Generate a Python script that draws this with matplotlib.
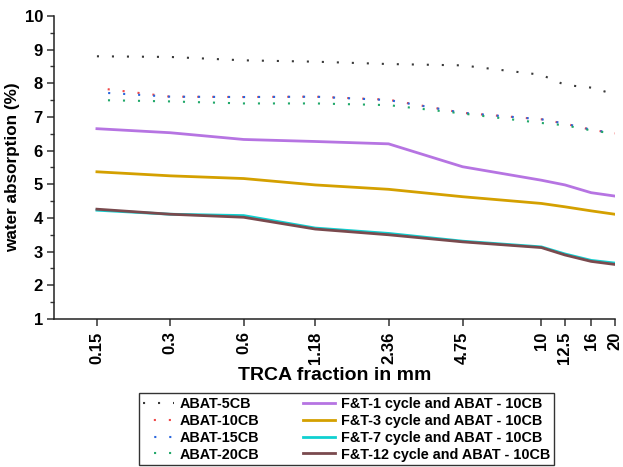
import matplotlib
matplotlib.use("Agg")
import matplotlib.pyplot as plt
from matplotlib.ticker import FixedLocator, NullLocator, MultipleLocator, FixedFormatter

plt.rcParams['font.family'] = ['Liberation Sans', 'DejaVu Sans']
plt.rcParams['font.weight'] = 'bold'

sizes = [0.15, 0.3, 0.6, 1.18, 2.36, 4.75, 10, 12.5, 16, 20]
size_labels = ["0.15", "0.3", "0.6", "1.18", "2.36", "4.75", "10", "12.5", "16", "20"]

abat_5cb = [8.80, 8.78, 8.68, 8.64, 8.57, 8.53, 8.25, 7.95, 7.87, 7.67]
abat_10cb = [7.86, 7.60, 7.59, 7.60, 7.51, 7.12, 6.93, 6.80, 6.62, 6.51]
abat_15cb = [7.73, 7.60, 7.59, 7.60, 7.50, 7.12, 6.93, 6.80, 6.62, 6.51]
abat_20cb = [7.50, 7.46, 7.40, 7.40, 7.35, 7.10, 6.82, 6.75, 6.60, 6.50]

ft_1 = [6.65, 6.53, 6.33, 6.27, 6.20, 5.52, 5.12, 4.98, 4.75, 4.65]
ft_3 = [5.37, 5.25, 5.17, 4.98, 4.85, 4.63, 4.43, 4.33, 4.21, 4.11]
ft_7 = [4.23, 4.11, 4.07, 3.70, 3.54, 3.31, 3.14, 2.93, 2.74, 2.66]
ft_12 = [4.26, 4.11, 4.02, 3.67, 3.50, 3.29, 3.12, 2.90, 2.71, 2.62]

fig = plt.figure(figsize=(6.23, 4.67), dpi=100)
ax = fig.add_axes([0.0867, 0.317, 0.900, 0.649])

dot_series = [
    ("ABAT-5CB", abat_5cb, "#3a3a3a", 0.0),
    ("ABAT-10CB", abat_10cb, "#f04848", 2.0),
    ("ABAT-15CB", abat_15cb, "#2a66dd", 1.8),
    ("ABAT-20CB", abat_20cb, "#22a86a", 1.9),
]
line_series = [
    ("F&T-1 cycle and ABAT - 10CB", ft_1, "#b674e2"),
    ("F&T-3 cycle and ABAT - 10CB", ft_3, "#d4a000"),
    ("F&T-7 cycle and ABAT - 10CB", ft_7, "#10d0d0"),
    ("F&T-12 cycle and ABAT - 10CB", ft_12, "#7a4a4e"),
]

handles = []
for name, vals, col, off in dot_series:
    h, = ax.plot(sizes, vals, color=col, lw=1.5,
                 linestyle=(off, (1, 6.2)), dash_capstyle='butt', label=name)
    handles.append(h)
for name, vals, col in line_series:
    h, = ax.plot(sizes, vals, color=col, lw=2.0, label=name)
    handles.append(h)

ax.set_xscale('log')
ax.set_xlim(0.1, 20)
ax.set_ylim(1, 10)
ax.xaxis.set_major_locator(FixedLocator(sizes))
ax.xaxis.set_major_formatter(FixedFormatter(size_labels))
ax.xaxis.set_minor_locator(NullLocator())
ax.yaxis.set_major_locator(MultipleLocator(1))
ax.yaxis.set_minor_locator(MultipleLocator(0.5))

for s in ['top', 'right']:
    ax.spines[s].set_visible(False)
for s in ['left', 'bottom']:
    ax.spines[s].set_linewidth(1.1)
    ax.spines[s].set_color('#222222')

ax.tick_params(axis='both', which='major', direction='out', length=5, width=1.1,
               color='#333333', labelsize=12)
ax.tick_params(axis='y', which='minor', direction='out', length=3, width=1.0, color='#333333')
ax.tick_params(axis='x', which='major', labelrotation=90, pad=4)
ax.tick_params(axis='y', which='major', pad=3)
for lab in ax.get_xticklabels() + ax.get_yticklabels():
    lab.set_fontweight('bold')

ax.set_ylabel("water absorption (%)", fontsize=12.3, fontweight='bold', labelpad=3)
ax.set_xlabel("TRCA fraction in mm", fontsize=14, fontweight='bold', labelpad=2)

leg = fig.legend(handles=handles, loc='lower left', ncol=2, mode='expand',
                 bbox_to_anchor=(0.223, 0.004, 0.666, 0.159),
                 prop={'weight': 'bold', 'size': 10.4},
                 frameon=True, fancybox=False, framealpha=1, edgecolor='#333333',
                 handlelength=2.2, handletextpad=0.4, labelspacing=0.2,
                 borderpad=0.25, columnspacing=1.0, borderaxespad=0)
leg.get_frame().set_linewidth(1.0)

fig.savefig("out.png", dpi=100)
